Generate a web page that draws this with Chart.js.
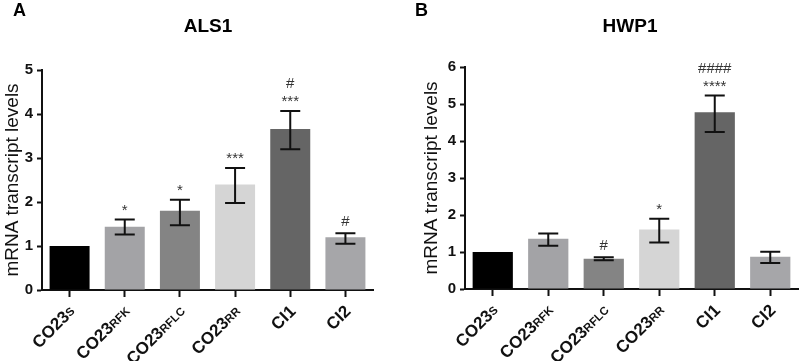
<!DOCTYPE html>
<html>
<head>
<meta charset="utf-8">
<script src="https://cdn.jsdelivr.net/npm/chart.js@4/dist/chart.umd.min.js"></script>
<style>
  body { margin: 0; background: #fff; }
  .panel { position: absolute; top: 0; width: 400px; height: 361px; }
</style>
</head>
<body>
<div class="panel" style="left:0"><canvas id="chartA" width="400" height="361"></canvas></div>
<div class="panel" style="left:400px"><canvas id="chartB" width="400" height="361"></canvas></div>
<script>
// categories: main text + small-caps suffix
const labelMain = ['CO23', 'CO23', 'CO23', 'CO23', 'CI1', 'CI2'];
const labelSub = ['S', 'RFK', 'RFLC', 'RR', '', ''];
const categories = labelMain.map((m, i) => m + labelSub[i]);
const barColors = ['#000000', '#a3a3a6', '#848484', '#d5d5d5', '#656565', '#a6a6a9'];

// ALS1
const als1Mean = [1.0, 1.44, 1.80, 2.40, 3.66, 1.20];
const als1ErrLow = [1.0, 1.26, 1.47, 1.98, 3.20, 1.05];
const als1ErrHigh = [1.0, 1.60, 2.05, 2.77, 4.07, 1.29];
const als1Sig = [[], ['*'], ['*'], ['***'], ['#', '***'], ['#']];

// HWP1
const hwp1Mean = [1.0, 1.36, 0.82, 1.61, 4.78, 0.87];
const hwp1ErrLow = [1.0, 1.17, 0.78, 1.26, 4.24, 0.70];
const hwp1ErrHigh = [1.0, 1.50, 0.86, 1.90, 5.23, 1.01];
const hwp1Sig = [[], [], ['#'], ['*'], ['####', '****'], []];

const FONT = '"Liberation Sans", Arial, sans-serif';

const overlay = {
    id: 'overlay',
    afterDatasetsDraw(chart, args, opts) {
        const ctx = chart.ctx;
        const x = chart.scales.x, y = chart.scales.y;
        ctx.save();
        // error bars
        ctx.strokeStyle = '#111';
        ctx.lineWidth = 2;
        opts.low.forEach((lo, i) => {
            const hi = opts.high[i];
            if (hi === lo) return;
            const cx = x.getPixelForValue(i);
            const yl = y.getPixelForValue(lo), yh = y.getPixelForValue(hi);
            ctx.beginPath();
            ctx.moveTo(cx, yl); ctx.lineTo(cx, yh);
            ctx.moveTo(cx - 10, yl); ctx.lineTo(cx + 10, yl);
            ctx.moveTo(cx - 10, yh); ctx.lineTo(cx + 10, yh);
            ctx.stroke();
        });
        // significance marks
        ctx.fillStyle = '#333';
        ctx.font = '15px ' + FONT;
        ctx.textAlign = 'center';
        ctx.textBaseline = 'middle';
        opts.sig.forEach((lines, i) => {
            const cx = x.getPixelForValue(i);
            const top = y.getPixelForValue(Math.max(opts.high[i], opts.mean[i]));
            lines.slice().reverse().forEach((t, k) => {
                const yy = top - 11 - k * 16 + (t.includes('*') ? 2 : 0);
                ctx.fillText(t, cx, yy);
            });
        });
        // rotated category labels
        ctx.fillStyle = '#111';
        categories.forEach((c, i) => {
            const cx = x.getPixelForValue(i);
            ctx.save();
            ctx.translate(cx + 3, x.top + 19);
            ctx.rotate(-Math.PI / 4);
            ctx.textAlign = 'left';
            ctx.textBaseline = 'middle';
            ctx.font = 'bold 11.5px ' + FONT;
            const subW = ctx.measureText(labelSub[i]).width;
            ctx.font = 'bold 17px ' + FONT;
            const mainW = ctx.measureText(labelMain[i]).width;
            const start = -(mainW + subW);
            ctx.fillText(labelMain[i], start, 0);
            ctx.font = 'bold 11.5px ' + FONT;
            ctx.fillText(labelSub[i], start + mainW, 1);
            ctx.restore();
        });
        // panel letter and title
        ctx.fillStyle = '#000';
        ctx.textAlign = 'left';
        ctx.font = 'bold 18px ' + FONT;
        ctx.fillText(opts.letter, opts.letterX, 11);
        ctx.textAlign = 'center';
        ctx.font = 'bold 19px ' + FONT;
        ctx.fillText(opts.title, opts.titleX, 27);
        ctx.restore();
    }
};

function makeChart(id, mean, low, high, sig, yMax, cfg) {
    new Chart(document.getElementById(id), {
        type: 'bar',
        data: {
            labels: categories,
            datasets: [{
                data: mean,
                backgroundColor: barColors,
                borderWidth: 0,
                categoryPercentage: 1,
                barPercentage: 0.725
            }]
        },
        options: {
            responsive: false,
            animation: false,
            layout: { padding: { top: cfg.top, left: cfg.left, right: cfg.right, bottom: 0 } },
            plugins: {
                legend: { display: false },
                tooltip: { enabled: false },
                overlay: {
                    mean: mean, low: low, high: high, sig: sig,
                    letter: cfg.letter, letterX: cfg.letterX,
                    title: cfg.title, titleX: cfg.titleX
                }
            },
            scales: {
                x: {
                    offset: true,
                    grid: { display: true, drawOnChartArea: false, offset: false, tickLength: 7, tickWidth: 2, tickColor: '#111' },
                    border: { color: '#111', width: 2 },
                    ticks: { display: false },
                    afterFit(s) { s.height = cfg.xHeight; }
                },
                y: {
                    min: 0,
                    max: yMax,
                    ticks: {
                        stepSize: 1,
                        color: '#111',
                        padding: 4,
                        font: { family: FONT, size: 15, weight: 'bold' }
                    },
                    grid: { drawOnChartArea: false, tickLength: 5, tickWidth: 2, tickColor: '#111' },
                    border: { color: '#111', width: 2 },
                    title: {
                        display: true,
                        text: 'mRNA transcript levels',
                        color: '#111',
                        padding: { top: 0, bottom: 0 },
                        font: { family: FONT, size: 19 }
                    },
                    afterFit(s) { s.width = cfg.yWidth; }
                }
            }
        },
        plugins: [overlay]
    });
}

makeChart('chartA', als1Mean, als1ErrLow, als1ErrHigh, als1Sig, 5,
    { top: 70, left: 1, right: 27, xHeight: 71, yWidth: 41, letter: 'A', letterX: 13, title: 'ALS1', titleX: 208 });
makeChart('chartB', hwp1Mean, hwp1ErrLow, hwp1ErrHigh, hwp1Sig, 6,
    { top: 67, left: 20, right: 2, xHeight: 72, yWidth: 45, letter: 'B', letterX: 15, title: 'HWP1', titleX: 230 });
</script>
</body>
</html>
